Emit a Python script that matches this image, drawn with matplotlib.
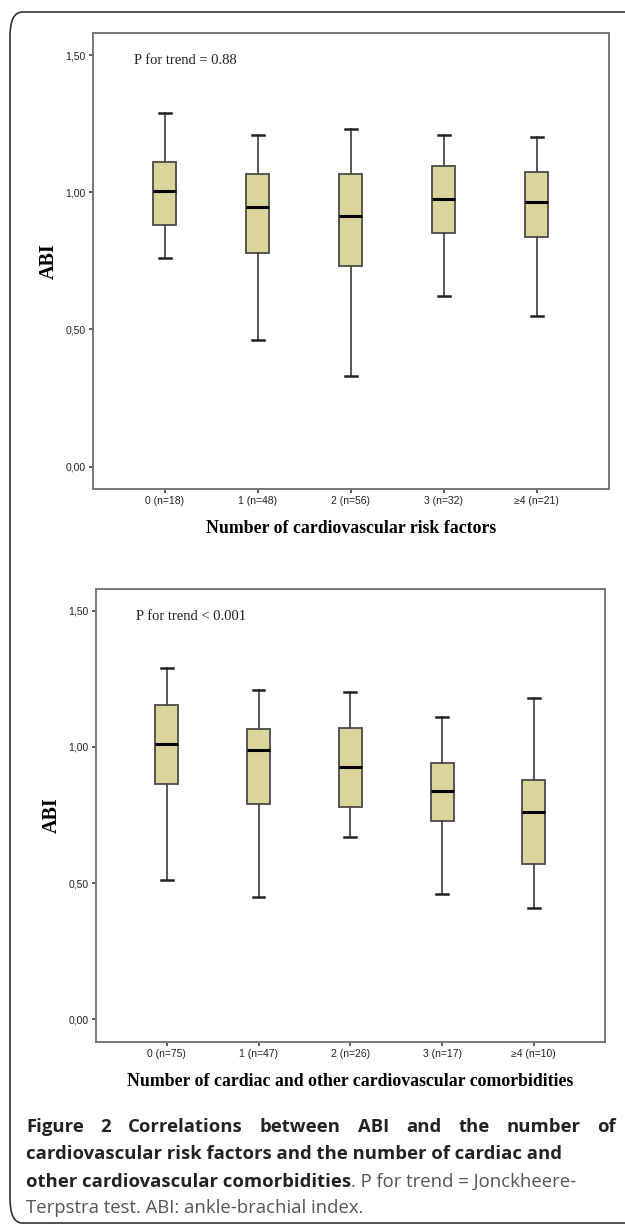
import matplotlib
matplotlib.use('Agg')
import matplotlib.pyplot as plt
from matplotlib.patches import FancyBboxPatch
from matplotlib import font_manager

##############################
# DATA
##############################
riskLabels = ['0 (n=18)', '1 (n=48)', '2 (n=56)', '3 (n=32)', '\u22654 (n=21)']
riskWhiskLo = [0.76, 0.46, 0.33, 0.62, 0.55]
riskQ1 = [0.88, 0.78, 0.73, 0.85, 0.835]
riskMed = [1.005, 0.945, 0.915, 0.975, 0.965]
riskQ3 = [1.11, 1.065, 1.065, 1.095, 1.075]
riskWhiskHi = [1.29, 1.21, 1.23, 1.21, 1.20]

comorbLabels = ['0 (n=75)', '1 (n=47)', '2 (n=26)', '3 (n=17)', '\u22654 (n=10)']
comorbWhiskLo = [0.51, 0.45, 0.67, 0.46, 0.41]
comorbQ1 = [0.865, 0.79, 0.78, 0.73, 0.57]
comorbMed = [1.01, 0.99, 0.925, 0.84, 0.76]
comorbQ3 = [1.155, 1.065, 1.07, 0.94, 0.88]
comorbWhiskHi = [1.29, 1.21, 1.20, 1.11, 1.18]

yTicks = [0.0, 0.5, 1.0, 1.5]
yTickLabels = ['0,00', '0,50', '1,00', '1,50']

SERIF = ['Liberation Serif', 'DejaVu Serif']
available = {f.name for f in font_manager.fontManager.ttflist}
NARROW = ['Liberation Sans Narrow', 'Liberation Sans'] if 'Liberation Sans Narrow' in available else ['Liberation Sans']
BOXFILL = '#dcd59b'
EDGE = '#4a4a4a'


def draw_boxes(ax, labels, lo, q1, med, q3, hi, pText, xLabel):
    stats = []
    for k in range(len(labels)):
        stats.append({'whislo': lo[k], 'q1': q1[k], 'med': med[k],
                      'q3': q3[k], 'whishi': hi[k], 'fliers': [], 'label': labels[k]})
    ax.bxp(stats, positions=range(len(labels)), widths=0.25, patch_artist=True,
           showfliers=False,
           boxprops=dict(facecolor=BOXFILL, edgecolor=EDGE, linewidth=1.3),
           whiskerprops=dict(color=EDGE, linewidth=1.3),
           capprops=dict(color='#222222', linewidth=1.8),
           medianprops=dict(color='black', linewidth=2.2),
           capwidths=0.13)

    ax.set_xlim(-0.775, 4.775)
    ax.set_ylim(-0.082, 1.58)
    ax.set_yticks(yTicks)
    ax.set_yticklabels(yTickLabels)
    ax.set_xticks(range(len(labels)))
    ax.set_xticklabels(labels)
    for lbl in ax.get_xticklabels() + ax.get_yticklabels():
        lbl.set_family(NARROW)
        lbl.set_fontsize(7.5)
        lbl.set_color('#222222')
    ax.tick_params(length=3, width=1.2, color='#444444', pad=2)
    for sp in ax.spines.values():
        sp.set_color('#777777')
        sp.set_linewidth(1.4)

    ax.text(0.08, 0.94, pText, transform=ax.transAxes, family=SERIF,
            fontsize=10.5, color='#222222', va='center', ha='left')
    ax.set_ylabel('ABI', family=SERIF, fontsize=14.5, fontweight='bold', labelpad=5)
    ax.set_xlabel(xLabel, family=SERIF, fontsize=12.8, fontweight='bold', labelpad=10)


fig = plt.figure(figsize=(6.25, 12.25), dpi=100)

# outer rounded frame of the figure panel
border = FancyBboxPatch((10 / 625, 2 / 1225), 640 / 625, 1211 / 1225,
                        boxstyle='round,pad=0,rounding_size=0.02',
                        transform=fig.transFigure, facecolor='none',
                        edgecolor='#333333', linewidth=1.2, clip_on=False)
fig.patches.append(border)

ax1 = fig.add_axes([0.148, 0.6008, 0.826, 0.3722])
draw_boxes(ax1, riskLabels, riskWhiskLo, riskQ1, riskMed, riskQ3, riskWhiskHi,
           'P for trend = 0.88', 'Number of cardiovascular risk factors')

ax2 = fig.add_axes([0.153, 0.1496, 0.815, 0.3696])
draw_boxes(ax2, comorbLabels, comorbWhiskLo, comorbQ1, comorbMed, comorbQ3, comorbWhiskHi,
           'P for trend < 0.001', 'Number of cardiac and other cardiovascular comorbidities')

# caption
CAP = ['Open Sans', 'DejaVu Sans']
capSize = 13.3
left = 26 / 625
right = 616 / 625
lineY = [1 - 1127 / 1225, 1 - 1154 / 1225, 1 - 1182 / 1225, 1 - 1208 / 1225]

fig.canvas.draw()
renderer = fig.canvas.get_renderer()


def text_width(t):
    bb = t.get_window_extent(renderer=renderer)
    return bb.width / fig.bbox.width


# first line is fully justified
words = 'Figure 2 Correlations between ABI and the number of'.split()
arts = [fig.text(0, lineY[0], w, family=CAP, fontsize=capSize, fontweight='bold',
                 color='#222222', va='center', ha='left') for w in words]
widths = [text_width(a) for a in arts]
gap = (right - left - sum(widths)) / (len(words) - 1)
x = left
for a, w in zip(arts, widths):
    a.set_x(x)
    x += w + gap

fig.text(left, lineY[1], 'cardiovascular risk factors and the number of cardiac and',
         family=CAP, fontsize=capSize, fontweight='bold', color='#222222', va='center')
boldPart = fig.text(left, lineY[2], 'other cardiovascular comorbidities',
                    family=CAP, fontsize=capSize, fontweight='bold', color='#222222', va='center')
fig.text(left + text_width(boldPart), lineY[2], '. P for trend = Jonckheere-',
         family=CAP, fontsize=capSize, color='#555555', va='center')
fig.text(left, lineY[3], 'Terpstra test. ABI: ankle-brachial index.',
         family=CAP, fontsize=capSize, color='#555555', va='center')

plt.savefig('out.png', dpi=100)
plt.close()
